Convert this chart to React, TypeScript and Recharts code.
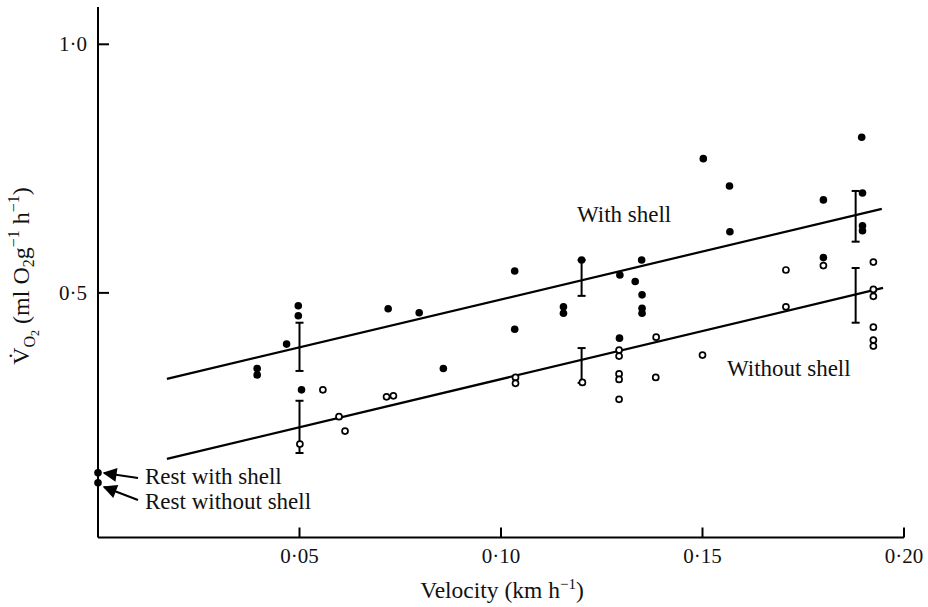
import * as React from 'react';
import { ScatterChart, Scatter, XAxis, YAxis, ErrorBar } from 'recharts';

// velocity (km/h), VO2 (ml O2 / g / h)
const withShell: [number, number][] = [
  [0.0395, 0.348], [0.0395, 0.335], [0.0468, 0.397], [0.0497, 0.474], [0.0497, 0.454],
  [0.0505, 0.305], [0.072, 0.468], [0.0797, 0.46], [0.0857, 0.348], [0.1034, 0.544],
  [0.1034, 0.427], [0.1155, 0.472], [0.1155, 0.459], [0.12, 0.566], [0.1295, 0.536],
  [0.1294, 0.409], [0.1333, 0.523], [0.1349, 0.566], [0.135, 0.496], [0.135, 0.469],
  [0.135, 0.459], [0.1502, 0.77], [0.1567, 0.715], [0.1568, 0.623], [0.18, 0.687],
  [0.18, 0.571], [0.1895, 0.813], [0.1897, 0.701], [0.1897, 0.635], [0.1897, 0.625],
];

const withoutShell: [number, number][] = [
  [0.0501, 0.196], [0.0558, 0.305], [0.0598, 0.251], [0.0613, 0.222], [0.0716, 0.291],
  [0.0733, 0.293], [0.1036, 0.33], [0.1036, 0.318], [0.1202, 0.32], [0.1293, 0.385],
  [0.1293, 0.373], [0.1293, 0.337], [0.1293, 0.326], [0.1293, 0.286], [0.1385, 0.411],
  [0.1384, 0.33], [0.15, 0.375], [0.1707, 0.546], [0.1707, 0.472], [0.18, 0.555],
  [0.1924, 0.562], [0.1924, 0.507], [0.1924, 0.493], [0.1924, 0.431], [0.1924, 0.405],
  [0.1924, 0.393],
];

const rest: [number, number][] = [[0, 0.138], [0, 0.118]];

// fitted lines, end points
const fitWith: [number, number][] = [[0.0171, 0.327], [0.1945, 0.669]];
const fitWithout: [number, number][] = [[0.0171, 0.166], [0.1948, 0.51]];

// error bars: x, centre, low, high
const barsWith: [number, number, number, number][] = [
  [0.05, 0.39, 0.343, 0.44],
  [0.12, 0.525, 0.494, 0.566],
  [0.188, 0.657, 0.603, 0.705],
];
const barsWithout: [number, number, number, number][] = [
  [0.05, 0.23, 0.178, 0.283],
  [0.12, 0.365, 0.319, 0.389],
  [0.188, 0.497, 0.44, 0.55],
];

const xTicks = [0.05, 0.1, 0.15, 0.2];
const yTicks = [0.5, 1.0];

const toPts = (arr: [number, number][]) => arr.map(([x, y]) => ({ x, y }));
const toBars = (arr: [number, number, number, number][]) =>
  arr.map(([x, y, lo, hi]) => ({ x, y, err: [y - lo, hi - y] }));

const FONT = '"Liberation Serif", "Times New Roman", serif';

const Filled = (p: any) => <circle cx={p.cx} cy={p.cy} r={3.8} fill="#000" />;
const Open = (p: any) => (
  <circle cx={p.cx} cy={p.cy} r={3} fill="#fff" stroke="#000" strokeWidth={1.7} />
);
const Nothing = () => <g />;

const XTick = (p: any) => (
  <text x={p.x} y={p.y + 15} textAnchor="middle" fontFamily={FONT} fontSize={21} fill="#111">
    {p.payload.value.toFixed(2).replace('.', '·')}
  </text>
);
const YTick = (p: any) => (
  <text x={p.x} y={p.y + 7} textAnchor="end" fontFamily={FONT} fontSize={21} fill="#111">
    {p.payload.value.toFixed(1).replace('.', '·')}
  </text>
);

export default function App() {
  return (
    <div style={{ position: 'absolute', left: 0, top: 0, width: 928, height: 607, background: '#fff' }}>
      <ScatterChart width={928} height={607} margin={{ top: 7, right: 24, bottom: 29.5, left: 0 }}>
        <XAxis
          type="number"
          dataKey="x"
          domain={[0, 0.2]}
          ticks={xTicks}
          tickSize={-10}
          tickMargin={20.5}
          height={40}
          stroke="#000"
          strokeWidth={2}
          tick={XTick}
        />
        <YAxis
          type="number"
          dataKey="y"
          domain={[0.008, 1.075]}
          ticks={yTicks}
          tickSize={-11}
          tickMargin={22}
          width={98}
          stroke="#000"
          strokeWidth={2}
          tick={YTick}
        />
        <Scatter data={toPts(fitWith)} line={{ stroke: '#000', strokeWidth: 2.2 }} shape={Nothing} isAnimationActive={false} />
        <Scatter data={toPts(fitWithout)} line={{ stroke: '#000', strokeWidth: 2.2 }} shape={Nothing} isAnimationActive={false} />
        <Scatter data={toBars(barsWith)} shape={Nothing} isAnimationActive={false}>
          <ErrorBar dataKey="err" direction="y" width={4} stroke="#000" strokeWidth={2} />
        </Scatter>
        <Scatter data={toBars(barsWithout)} shape={Nothing} isAnimationActive={false}>
          <ErrorBar dataKey="err" direction="y" width={4} stroke="#000" strokeWidth={2} />
        </Scatter>
        <Scatter data={toPts(withoutShell)} shape={Open} isAnimationActive={false} />
        <Scatter data={toPts(withShell)} shape={Filled} isAnimationActive={false} />
        <Scatter data={toPts(rest)} shape={Filled} isAnimationActive={false} />
      </ScatterChart>
      <svg width={928} height={607} style={{ position: 'absolute', left: 0, top: 0, pointerEvents: 'none' }}>
        <defs>
          <marker id="ah" viewBox="0 0 10 10" refX="9" refY="5" markerWidth="9" markerHeight="7" orient="auto">
            <path d="M0,0 L10,5 L0,10 z" fill="#000" />
          </marker>
        </defs>
        <g fontFamily={FONT} fill="#111" fontSize={23}>
          <text x={577} y={222}>With shell</text>
          <text x={727} y={376}>Without shell</text>
          <text x={145} y={484}>Rest with shell</text>
          <text x={145} y={509}>Rest without shell</text>
          <text x={502} y={598} textAnchor="middle" fontSize={23.5}>
            Velocity (km h<tspan fontSize={15} dy={-9}>−1</tspan><tspan dy={9}>)</tspan>
          </text>
          <text transform="translate(29,276) rotate(-90)" textAnchor="middle" fontSize={24}>
            V̇<tspan fontSize={16} dy={6}>O</tspan><tspan fontSize={12} dy={4}>2</tspan>
            <tspan dy={-10}> (ml O</tspan><tspan fontSize={16} dy={5}>2</tspan>
            <tspan dy={-5}>g</tspan><tspan fontSize={16} dy={-10}>−1</tspan>
            <tspan dy={10}> h</tspan><tspan fontSize={16} dy={-10}>−1</tspan>
            <tspan dy={10}>)</tspan>
          </text>
        </g>
        <line x1={138} y1={478} x2={104} y2={473} stroke="#000" strokeWidth={2} markerEnd="url(#ah)" />
        <line x1={138} y1={500} x2={104} y2={487} stroke="#000" strokeWidth={2} markerEnd="url(#ah)" />
      </svg>
    </div>
  );
}
